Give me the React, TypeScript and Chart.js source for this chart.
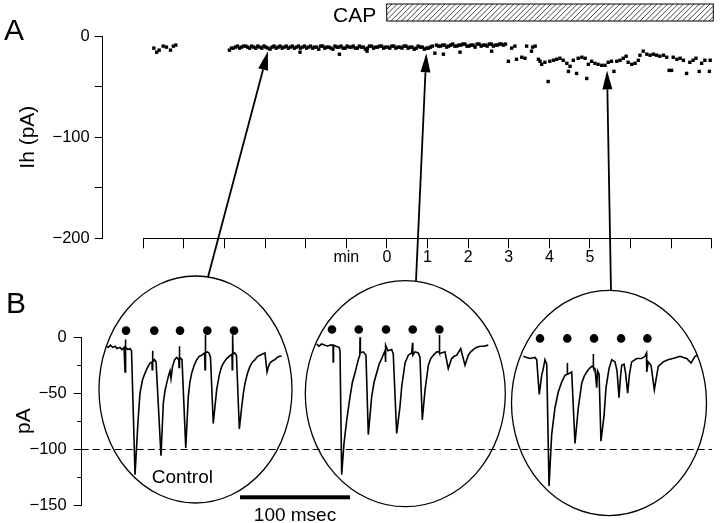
import React, { useEffect, useRef } from 'react';
import { Chart, registerables } from 'chart.js';
Chart.register(...registerables);

// ---------- Panel A : Ih (pA) vs time (min) ----------
const minuteTickValues = [-6, -5, -4, -3, -2, -1, 0, 1, 2, 3, 4, 5, 6, 7, 8];
const minuteTickLabels = ['', '', '', '', '', 'min', '0', '1', '2', '3', '4', '5', '', '', ''];

const earlyMin = [-5.74, -5.67, -5.61, -5.51, -5.43, -5.33, -5.26, -5.2];
const earlyPA = [-12, -16, -14, -10, -11, -14, -10, -9];

const ctrlMin = [-3.88, -3.78, -3.68, -3.58, -3.48, -3.38, -3.28, -3.18, -3.08, -2.98,
  -2.88, -2.78, -2.68, -2.58, -2.48, -2.38, -2.28, -2.18, -2.14, -2.08, -1.98, -1.88,
  -1.78, -1.68, -1.58, -1.48, -1.38, -1.28, -1.18, -1.17, -1.08, -0.98, -0.88, -0.78,
  -0.68, -0.58, -0.49, -0.48, -0.38, -0.28, -0.18, -0.08, 0.02, 0.12, 0.22, 0.32, 0.42,
  0.52, 0.62, 0.72, 0.82, 0.92, 1.02, 1.12, 1.18, 1.22, 1.32, 1.39, 1.42, 1.52, 1.62,
  1.72, 1.80, 1.82, 1.92, 2.02, 2.12, 2.22, 2.32, 2.42, 2.52, 2.58, 2.62, 2.72, 2.82, 2.92];
const ctrlPA = [-14, -12, -10, -11, -10, -12, -11, -10, -12, -11,
  -13, -10, -11, -12, -10, -11, -12, -10, -16, -11, -12, -10, -11, -13, -10, -11, -12, -10, -11,
  -18, -12, -10, -11, -12, -10, -11, -15, -12, -10, -11, -10, -12, -11, -10, -12, -11, -10,
  -12, -11, -12, -11, -13, -12, -10, -17, -9, -10, -18, -9, -10, -8, -10, -16, -9, -8, -10,
  -9, -8, -10, -9, -8, -15, -10, -9, -8, -8];

const ctrl2Min = [-3.83, -3.73, -3.63, -3.53, -3.43, -3.33, -3.23, -3.13, -3.03, -2.93,
  -2.83, -2.73, -2.63, -2.53, -2.43, -2.33, -2.23, -2.13, -2.03, -1.93,
  -1.83, -1.73, -1.63, -1.53, -1.43, -1.33, -1.23, -1.13, -1.03, -0.93,
  -0.83, -0.73, -0.63, -0.53, -0.43, -0.33, -0.23, -0.13, -0.03, 0.07,
  0.17, 0.27, 0.37, 0.47, 0.57, 0.67, 0.77, 0.87, 0.97, 1.07,
  1.27, 1.37, 1.47, 1.57, 1.67, 1.77, 1.87, 1.97, 2.07, 2.17,
  2.27, 2.37, 2.47, 2.57, 2.67, 2.77, 2.87];
const ctrl2PA = [-12, -11, -12, -10, -11, -10, -12, -11, -10, -12,
  -11, -12, -10, -11, -12, -10, -11, -12, -10, -11,
  -12, -11, -10, -12, -11, -13, -11, -10, -12, -11,
  -10, -12, -11, -13, -10, -12, -11, -10, -11, -12,
  -10, -11, -12, -10, -11, -13, -10, -11, -12, -11,
  -10, -9, -11, -9, -10, -9, -8, -10, -9, -11,
  -8, -9, -10, -8, -9, -8, -9];

const capMin = [2.99, 3.07, 3.15, 3.19, 3.32, 3.40, 3.44, 3.56, 3.59, 3.65,
  3.73, 3.77, 3.81, 3.89, 3.97, 4.01, 4.10, 4.18, 4.26, 4.34,
  4.43, 4.47, 4.51, 4.59, 4.67, 4.71, 4.80, 4.88, 4.92, 4.96,
  5.04, 5.12, 5.20, 5.29, 5.37, 5.45, 5.53, 5.59, 5.66, 5.74,
  5.82, 5.89, 5.94, 6.03, 6.11, 6.19, 6.23, 6.31, 6.40, 6.48,
  6.56, 6.64, 6.72, 6.81, 6.89, 6.95, 7.01, 7.05, 7.14, 7.22,
  7.30, 7.38, 7.46, 7.54, 7.61, 7.69, 7.75, 7.83, 7.94, 7.96];
const capPA = [-25, -12, -10, -23, -21, -22, -10, -15, -11, -10,
  -23, -25, -28, -26, -45, -25, -24, -23, -22, -24,
  -27, -35, -30, -24, -37, -22, -21, -22, -42, -28,
  -25, -27, -28, -29, -29, -26, -25, -35, -25, -24,
  -22, -20, -26, -28, -27, -24, -19, -15, -18, -19,
  -18, -19, -20, -19, -21, -34, -34, -21, -23, -22,
  -24, -37, -26, -24, -22, -35, -27, -24, -35, -24];

// ---------- Panel B : current traces (ms, pA) ----------
const trace1Ms = [0, 2, 4, 6, 8.2, 10, 12.7, 14.5, 16.4, 17.3,
  17.6, 18.0, 20, 21.8, 23.2, 26.4, 29.1, 30.9, 33.2, 35.5,
  37.7, 40.0, 41.8, 42.0, 42.3, 42.6, 44, 45.5, 50.0, 52.1,
  53.6, 55.2, 56.7, 58.2, 59.1, 60.5, 62.4, 64.3, 66.2, 66.4,
  66.7, 67.0, 69.1, 72.5, 74.8, 76.3, 77.9, 80.2, 82.5, 84.7,
  87.0, 89.7, 90.0, 90.3, 90.6, 92.2, 93.6, 95.0, 97.5, 100.6,
  102.9, 105.2, 107.5, 109.7, 112.0, 114.5, 114.8, 115.1, 115.5, 117.0,
  118.6, 121.2, 123.4, 124.9, 126.4, 128.7, 130.9, 133.2, 135.5, 137.8,
  140.0, 142.3, 144.5, 146.4, 147.8, 149.1, 151.4, 153.6, 155.6, 157.7,
  159.7];
const trace1PA = [-8, -9, -7, -9, -8, -10, -9, -11, -9, -31,
  -2, -9, -11, -10, -12, -123, -75, -50, -38, -32,
  -27, -23, -22, -29, -12, -22, -20, -22, -106, -59,
  -48, -41, -35, -30, -37, -26, -20, -18, -20, -27,
  -8, -18, -20, -99, -53, -40, -32, -25, -20, -17,
  -16, -14, -29, 2, -14, -13, -14, -18, -77, -47,
  -34, -26, -22, -19, -17, -15, -29, 2, -15, -14,
  -16, -82, -62, -50, -41, -32, -26, -22, -20, -17,
  -16, -15, -14, -31, -26, -23, -21, -20, -18, -17,
  -17];

const trace2Ms = [0, 2, 4.5, 7.5, 10, 12.1, 14.8, 15.0, 15.3, 17.5,
  20.3, 21.2, 22.7, 24.8, 27.3, 30.3, 32.5, 34.8, 37.8, 39.2,
  39.4, 39.7, 42.4, 44.8, 46.9, 50.0, 52.2, 54.5, 56.8, 59.1,
  62.1, 62.5, 62.8, 64.8, 68.2, 69.6, 72.7, 75.7, 77.3, 80.3,
  83.3, 86.4, 87.1, 87.4, 89.4, 92.4, 93.9, 96.0, 98.5, 101.5,
  103.7, 106.0, 109.1, 111.3, 111.5, 111.8, 113.6, 116.6, 119.6, 122.7,
  125, 127.3, 130.9, 134.8, 137.8, 140, 142.4, 145, 148.5, 152, 156.0];
const trace2PA = [-6, -8, -6, -7, -8, -7, -7, -22, -7, -8,
  -9, -12, -123, -95, -74, -53, -40, -32, -20, -16,
  0, -14, -13, -16, -87, -53, -40, -32, -24, -19,
  -12, -22, -7, -12, -11, -15, -86, -62, -44, -23,
  -16, -14, -5, -16, -13, -14, -18, -74, -47, -25,
  -19, -16, -13, -13, 2, -14, -14, -13, -28, -19,
  -17, -16, -10, -25, -16, -13, -11, -9, -8, -8, -7];

const trace3Ms = [0, 3, 6.1, 10.6, 12.2, 14.5, 16.7, 18.2, 19.7, 21.3,
  23.4, 25.8, 28.8, 31.8, 34.9, 37.9, 39.8, 40.0, 40.2, 42.5,
  44.0, 47.0, 50.0, 53.1, 55.3, 57.6, 60.0, 62.2, 63.4, 63.6,
  63.8, 65.2, 66.7, 67.5, 68.9, 70.6, 73.4, 75.2, 77.9, 80.4,
  83.4, 85.2, 87.0, 88.4, 89.5, 91.6, 93.0, 94.9, 96.5, 98.5,
  103.1, 107.6, 110.6, 112.0, 112.2, 113.6, 116.1, 119.1, 122.7, 127.3,
  131.5, 135.8, 139.0, 142.5, 145.5, 148.5, 152.5, 156.1, 158.5];
const trace3PA = [-17, -18, -19, -18, -20, -51, -34, -28, -20, -24,
  -133, -87, -63, -49, -40, -34, -33, -23, -33, -32,
  -31, -95, -63, -41, -35, -31, -28, -26, -26, -15,
  -27, -28, -45, -30, -33, -93, -70, -45, -28, -20,
  -22, -30, -54, -35, -25, -24, -32, -50, -33, -22,
  -19, -19, -17, -14, -31, -22, -25, -47, -26, -22,
  -20, -19, -18, -17, -18, -19, -23, -17, -16];

// stimulus markers (filled dots above each trace)
const dots1Ms = [18.2, 43.9, 67.3, 92.1, 116.4];
const dots1PA = [6, 6, 6, 6, 6];
const dots2Ms = [13.9, 38.2, 63.0, 87.3, 111.5];
const dots2PA = [7, 7, 7, 7, 7];
const dots3Ms = [15.2, 40.0, 64.3, 88.9, 112.8];
const dots3PA = [-1, -1, -1, -1, -1];

const FONT = "'Liberation Sans', Arial, Helvetica, sans-serif";

const zip = (xs: number[], ys: number[]) => xs.map((x, i) => ({ x, y: ys[i] }));
const minusLabel = (v: number) => (v < 0 ? '\u2212' + Math.abs(v) : String(v));

// where each axis lives on the 720x523 page
const placeScales = {
  id: 'placeScales',
  afterLayout(chart: any) {
    const s = chart.scales;
    const put = (sc: any, l: number, t: number, r: number, b: number) => {
      sc.left = l; sc.top = t; sc.right = r; sc.bottom = b;
      sc.width = r - l; sc.height = b - t;
      sc._labelItems = null; sc._gridLineItems = null;
      sc.configure();
    };
    put(s.yA, 11.4, 36, 102.7, 238.3);
    put(s.xA, 143.3, 238.3, 711.8, 275);
    put(s.yB, 7.4, 337.3, 81.7, 505);
    put(s.xB1, 106, 300, 106 + 176, 505);
    put(s.xB2, 316.7, 300, 316.7 + 176, 505);
    put(s.xB3, 523.3, 300, 523.3 + 176, 505);
    const w = chart.width, h = chart.height;
    chart.chartArea = { left: 0, top: 0, right: w, bottom: h, width: w, height: h };
  },
};

const decorations = {
  id: 'decorations',
  afterDraw(chart: any) {
    const { ctx } = chart;
    const s = chart.scales;
    ctx.save();
    ctx.fillStyle = '#000';
    ctx.strokeStyle = '#000';

    // panel letters
    ctx.font = `30px ${FONT}`;
    ctx.textBaseline = 'alphabetic';
    ctx.textAlign = 'left';
    ctx.fillText('A', 4, 40);
    ctx.fillText('B', 6, 312.7);

    // CAP bar
    ctx.font = `21px ${FONT}`;
    ctx.fillText('CAP', 333, 21.5);
    const bx = 386.7, by = 4, bw = 326.6, bh = 17;
    ctx.save();
    ctx.beginPath();
    ctx.rect(bx, by, bw, bh);
    ctx.clip();
    ctx.lineWidth = 0.9;
    ctx.strokeStyle = '#333';
    for (let x = bx - bh; x < bx + bw + bh; x += 5.3) {
      ctx.beginPath();
      ctx.moveTo(x, by + bh);
      ctx.lineTo(x + bh, by);
      ctx.stroke();
    }
    ctx.restore();
    ctx.lineWidth = 1;
    ctx.strokeRect(bx, by, bw, bh);

    // minor ticks on B y axis
    ctx.lineWidth = 1;
    [-25, -75, -125].forEach((v) => {
      const y = Math.round(s.yB.getPixelForValue(v)) + 0.5;
      ctx.beginPath();
      ctx.moveTo(s.yB.right - 4.5, y);
      ctx.lineTo(s.yB.right, y);
      ctx.stroke();
    });

    // dashed -100 pA reference
    const yd = Math.round(s.yB.getPixelForValue(-100)) + 0.5;
    ctx.setLineDash([7, 4]);
    ctx.beginPath();
    ctx.moveTo(s.yB.right, yd);
    ctx.lineTo(712, yd);
    ctx.stroke();
    ctx.setLineDash([]);

    // ellipses
    ctx.lineWidth = 1.3;
    const ells = [[195.5, 389.5, 96.5, 113.5], [405.3, 393.7, 100, 113], [609, 403, 97.5, 112.6]];
    ells.forEach(([cx, cy, rx, ry]) => {
      ctx.beginPath();
      ctx.ellipse(cx, cy, rx, ry, 0, 0, Math.PI * 2);
      ctx.stroke();
    });

    // arrows from ellipses to the sampled points
    const arrows = [
      [208, 277, -2.93, -15],
      [416, 281, 0.97, -17],
      [611, 291, 5.42, -34],
    ];
    arrows.forEach(([x0, y0, tm, tp]) => {
      const x1 = s.xA.getPixelForValue(tm);
      const y1 = s.yA.getPixelForValue(tp);
      const ang = Math.atan2(y1 - y0, x1 - x0);
      const hl = 19, hw = 5;
      const bxp = x1 - hl * Math.cos(ang), byp = y1 - hl * Math.sin(ang);
      ctx.lineWidth = 1.8;
      ctx.beginPath();
      ctx.moveTo(x0, y0);
      ctx.lineTo(bxp, byp);
      ctx.stroke();
      ctx.beginPath();
      ctx.moveTo(x1, y1);
      ctx.lineTo(bxp + hw * Math.sin(ang), byp - hw * Math.cos(ang));
      ctx.lineTo(bxp - hw * Math.sin(ang), byp + hw * Math.cos(ang));
      ctx.closePath();
      ctx.fill();
    });

    // Control label
    ctx.font = `19px ${FONT}`;
    ctx.textAlign = 'left';
    ctx.fillText('Control', 151.7, 482.5);

    // 100 msec scale bar
    const len = s.xB1.getPixelForValue(100) - s.xB1.getPixelForValue(0);
    ctx.fillRect(240, 495.3, len, 4);
    ctx.textAlign = 'center';
    ctx.fillText('100 msec', 240 + len / 2, 520.5);

    ctx.restore();
  },
};

export default function App() {
  const ref = useRef<HTMLCanvasElement | null>(null);

  useEffect(() => {
    document.body.style.margin = '0';
    if (!ref.current) return;
    Chart.defaults.font.family = FONT;
    Chart.defaults.color = '#000';

    const traceStyle = {
      showLine: true,
      borderColor: '#000',
      borderWidth: 1.6,
      pointRadius: 0,
      tension: 0,
      clip: false,
      yAxisID: 'yB',
    };
    const dotStyle = {
      showLine: false,
      pointRadius: 4.3,
      pointStyle: 'circle',
      backgroundColor: '#000',
      borderWidth: 0,
      clip: false,
      yAxisID: 'yB',
    };

    const chart = new Chart(ref.current, {
      type: 'scatter',
      data: {
        datasets: [
          {
            label: 'Ih',
            data: [
              ...zip(earlyMin, earlyPA),
              ...zip(ctrlMin, ctrlPA),
              ...zip(ctrl2Min, ctrl2PA),
              ...zip(capMin, capPA),
            ].sort((a, b) => a.x - b.x),
            xAxisID: 'xA',
            yAxisID: 'yA',
            pointStyle: 'rect',
            pointRadius: 2.4,
            backgroundColor: '#000',
            borderWidth: 0,
            clip: false,
          } as any,
          { label: 'Control', data: zip(trace1Ms, trace1PA), xAxisID: 'xB1', ...traceStyle } as any,
          { label: 'CAP 1 min', data: zip(trace2Ms, trace2PA), xAxisID: 'xB2', ...traceStyle } as any,
          { label: 'CAP 5 min', data: zip(trace3Ms, trace3PA), xAxisID: 'xB3', ...traceStyle } as any,
          { label: 'stim1', data: zip(dots1Ms, dots1PA), xAxisID: 'xB1', ...dotStyle } as any,
          { label: 'stim2', data: zip(dots2Ms, dots2PA), xAxisID: 'xB2', ...dotStyle } as any,
          { label: 'stim3', data: zip(dots3Ms, dots3PA), xAxisID: 'xB3', ...dotStyle } as any,
        ],
      },
      options: {
        responsive: false,
        animation: false,
        devicePixelRatio: 1,
        events: [],
        layout: { padding: 0 },
        plugins: { legend: { display: false }, tooltip: { enabled: false } },
        scales: {
          xA: {
            type: 'linear',
            axis: 'x',
            position: 'bottom',
            min: -6,
            max: 8,
            afterBuildTicks: (sc: any) => {
              sc.ticks = minuteTickValues.map((v) => ({ value: v }));
            },
            ticks: {
              autoSkip: false,
              maxRotation: 0,
              padding: 0,
              color: '#000',
              font: { size: 16 },
              callback: (v: any) => {
                const i = minuteTickValues.indexOf(Number(v));
                return i >= 0 ? minuteTickLabels[i] : '';
              },
            },
            grid: { drawOnChartArea: false, tickLength: 10, color: '#000', lineWidth: 1 },
            border: { color: '#000', width: 1 },
          },
          yA: {
            type: 'linear',
            axis: 'y',
            position: 'left',
            min: -200,
            max: 0,
            ticks: {
              stepSize: 50,
              autoSkip: false,
              padding: 5,
              color: '#000',
              font: { size: 16.5 },
              callback: (v: any) => (Number(v) % 100 === 0 ? minusLabel(Number(v)) : ''),
            },
            grid: { drawOnChartArea: false, tickLength: 8, color: '#000', lineWidth: 1 },
            border: { color: '#000', width: 1 },
            title: { display: true, text: 'Ih (pA)', color: '#000', font: { size: 21 }, padding: 4 },
          },
          yB: {
            type: 'linear',
            axis: 'y',
            position: 'left',
            min: -150,
            max: 0,
            ticks: {
              stepSize: 50,
              autoSkip: false,
              padding: 7,
              color: '#000',
              font: { size: 16.5 },
              callback: (v: any) => minusLabel(Number(v)),
            },
            grid: { drawOnChartArea: false, tickLength: 8, color: '#000', lineWidth: 1 },
            border: { color: '#000', width: 1 },
            title: { display: true, text: 'pA', color: '#000', font: { size: 21 }, padding: 4 },
          },
          xB1: { type: 'linear', axis: 'x', position: 'bottom', min: 0, max: 160, display: false },
          xB2: { type: 'linear', axis: 'x', position: 'bottom', min: 0, max: 160, display: false },
          xB3: { type: 'linear', axis: 'x', position: 'bottom', min: 0, max: 160, display: false },
        },
      } as any,
      plugins: [placeScales, decorations],
    });
    return () => chart.destroy();
  }, []);

  return (
    <div style={{ position: 'relative', width: 720, height: 523, background: '#fff' }}>
      <canvas ref={ref} width={720} height={523} style={{ display: 'block' }} />
    </div>
  );
}
